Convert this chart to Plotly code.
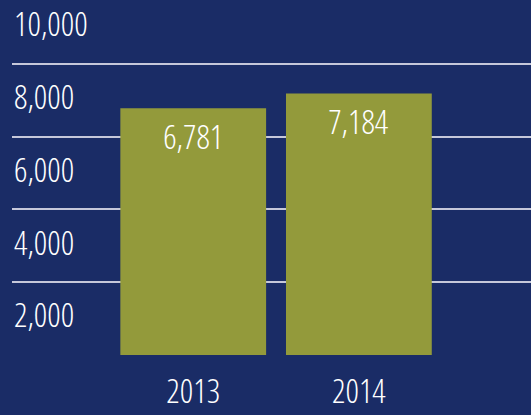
import plotly.graph_objects as go

# data
years = ["2013", "2014"]
volumes = [6781, 7184]
grid_vals = [2000, 4000, 6000, 8000, 10000]
tick_labels = ["2,000", "4,000", "6,000", "8,000", "10,000"]

BG = "#1a2c66"
BAR = "#939a3b"
GRID = "#c6c8da"
FONT = "Open Sans"
y_top = 9753

fig = go.Figure()

fig.add_trace(go.Bar(
    x=years,
    y=volumes,
    marker=dict(color=BAR, line=dict(width=0)),
    hoverinfo="skip",
))

label_font = dict(family=FONT, size=33, color="white", weight=300)

# value labels sit a little below the top of each bar
for i, v in enumerate(volumes):
    fig.add_annotation(
        x=i, y=v, xref="x", yref="y", yshift=-28, yanchor="middle",
        text=f"{v:,}", showarrow=False, font=label_font,
    )

# y labels sit halfway between the gridlines, left aligned
for g, lab in zip(grid_vals, tick_labels):
    fig.add_annotation(
        x=0, xref="paper", xanchor="left", align="left",
        y=g - 900, yref="y", yanchor="middle",
        text=lab, showarrow=False, font=label_font,
    )

fig.update_layout(
    width=531, height=415,
    margin=dict(l=12, r=0, t=0, b=60),
    paper_bgcolor=BG, plot_bgcolor="rgba(0,0,0,0)",
    showlegend=False,
    bargap=0.12,
    xaxis=dict(
        type="category", automargin=False,
        range=[-1.094, 2.039],
        showgrid=False, zeroline=False, showline=False,
        ticks="outside", ticklen=7, tickcolor="rgba(0,0,0,0)",
        tickfont=label_font,
    ),
    yaxis=dict(
        range=[0, y_top], automargin=False,
        tickvals=grid_vals, showticklabels=False,
        showgrid=True, gridcolor=GRID, gridwidth=2,
        zeroline=False, showline=False,
    ),
)

css = ("var s=document.createElement('style');"
       "s.textContent='text{font-stretch:condensed !important;} body{margin:0;}';"
       "document.head.appendChild(s);")
fig.write_html("out.html", post_script=css, config={"displayModeBar": False})
